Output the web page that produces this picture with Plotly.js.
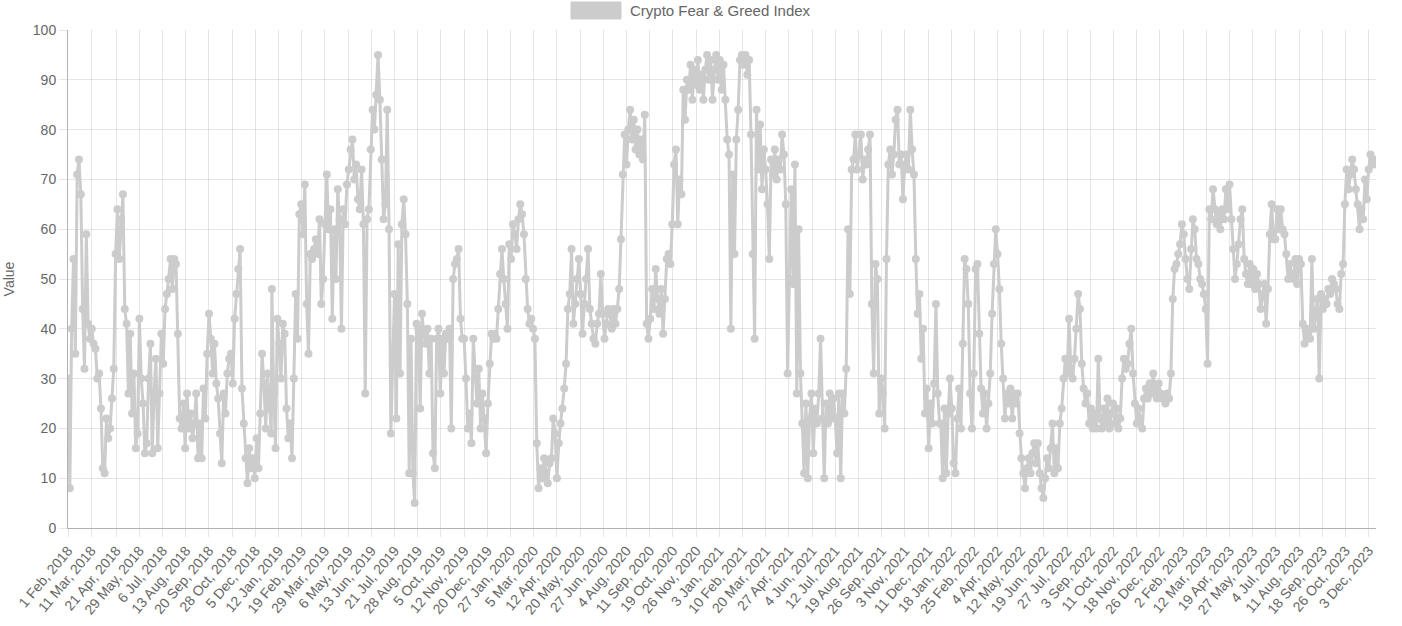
<!DOCTYPE html>
<html>
<head>
<meta charset="utf-8">
<script src="https://cdn.plot.ly/plotly-3.0.1.min.js"></script>
<style>
html,body{margin:0;padding:0;background:#ffffff;}
#chart{width:1402px;height:626px;}
</style>
</head>
<body>
<div id="chart"></div>
<script>
const seriesName = "Crypto Fear & Greed Index";
const stepDays = 3;

const start2018 = "2018-02-01";
const fg2018 = [
30,8,40,54,35,71,74,67,44,32,
59,41,38,40,37,36,30,31,24,12,
11,22,18,20,26,32,55,64,54,62,
67,44,41,27,39,23,31,16,19,42,
30,25,15,17,30,37,15,27,34,16,
27,39,33,44,47,50,54,48,54,53,
39,22,20,25,16,27,20,23,18,21,
27,14,21,14,28,22,35,43,38,31,
37,29,26,19,13,27,23,31,34,35,
29,42,47,52,56,28,21,14,9,16,
12,14,10,18,12,23,35,29,20,31,
24,19
];
const start2019 = "2019-01-01";
const fg2019 = [
48,27,16,42,37,30,41,39,24,18,
21,14,30,47,38,63,65,59,69,45,
35,55,54,56,58,55,62,45,50,61,
71,60,64,42,60,50,68,62,40,64,
61,69,72,76,78,70,73,66,64,72,
61,27,62,64,76,84,80,87,95,86,
74,62,65,84,60,19,33,47,22,57,
31,61,66,59,45,11,38,11,5,41,
40,24,43,39,37,40,31,38,15,12,
38,40,27,38,31,39,38,40,20,50,
53,54,56,42,38,38,30,20,23,17,
38,30,25,32,20,27,22,15,25,33,
39,38
];
const start2020 = "2020-01-01";
const fg2020 = [
39,38,44,51,56,50,45,40,57,54,
61,59,56,62,65,63,59,50,44,41,
42,40,38,17,8,12,10,14,11,9,
13,14,22,19,10,17,21,24,28,33,
44,47,56,41,45,50,54,47,39,45,
50,56,44,41,38,37,41,43,51,43,
38,41,44,43,40,44,41,44,48,58,
71,79,73,80,84,78,82,76,80,75,
78,74,83,41,38,42,48,44,52,46,
43,48,39,46,54,55,53,61,73,76,
61,70,67,88,82,90,88,93,86,92,
89,94,88,91,86,92,95,90,94,86,
92,95
];
const start2021 = "2021-01-01";
const fg2021 = [
90,94,88,93,86,78,75,40,71,55,
78,84,94,95,93,95,91,94,79,55,
38,84,72,81,68,76,72,65,54,74,
71,76,70,74,72,79,75,65,31,50,
68,49,73,27,60,31,21,11,25,10,
22,27,15,24,21,27,38,22,10,25,
21,27,22,26,22,15,27,10,27,23,
32,60,47,72,74,79,72,75,79,70,
74,73,76,79,45,31,53,50,23,30,
27,20,54,73,76,71,75,82,84,73,
75,66,73,75,72,84,76,71,54,43,
47,34,40,23,28,16,25,21,29,45,
27,21
];
const start2022 = "2022-01-01";
const fg2022 = [
21,10,24,11,23,30,24,13,11,22,
28,20,37,54,52,45,27,20,31,52,
53,39,28,23,27,20,25,31,43,53,
60,55,48,37,30,22,27,25,28,22,
27,25,27,19,14,11,8,12,14,11,
15,17,13,17,11,8,6,10,14,12,
16,21,11,16,12,21,24,30,34,31,
42,32,30,34,40,47,44,33,28,25,
27,21,24,20,23,20,34,22,20,24,
21,26,20,23,25,21,24,20,22,30,
34,32,33,37,40,31,25,21,24,22,
20,26,28,26,29,27,31,28,26,29,
27,26
];
const start2023 = "2023-01-01";
const fg2023 = [
26,25,27,26,31,46,52,53,55,57,
61,59,54,50,48,56,62,60,54,53,
50,49,47,44,33,64,62,68,64,61,
63,60,64,62,68,64,69,62,56,50,
53,57,62,64,54,51,49,53,49,52,
48,51,49,44,47,49,41,48,59,65,
58,58,64,60,64,60,59,55,50,53,
51,50,54,49,54,53,41,37,40,39,
38,54,40,43,46,30,47,44,46,45,
48,47,50,49,48,45,44,51,53,65,
72,68,71,74,72,68,65,60,64,62,
70,66,72,75,73,74,73
];

// x-axis tick labels (every 38th day of the original category axis)
const tickDates = [
"2018-02-01","2018-03-11","2018-04-21","2018-05-29","2018-07-06","2018-08-13","2018-09-20","2018-10-28","2018-12-05",
"2019-01-12","2019-02-19","2019-03-29","2019-05-06","2019-06-13","2019-07-21","2019-08-28","2019-10-05","2019-11-12","2019-12-20",
"2020-01-27","2020-03-05","2020-04-12","2020-05-20","2020-06-27","2020-08-04","2020-09-11","2020-10-19","2020-11-26",
"2021-01-03","2021-02-10","2021-03-20","2021-04-27","2021-06-04","2021-07-12","2021-08-19","2021-09-26","2021-11-03","2021-12-11",
"2022-01-18","2022-02-25","2022-04-04","2022-05-12","2022-06-19","2022-07-27","2022-09-03","2022-10-11","2022-11-18","2022-12-26",
"2023-02-02","2023-03-12","2023-04-19","2023-05-27","2023-07-04","2023-08-11","2023-09-18","2023-10-26","2023-12-03"
];
const monthNames = ["Jan","Feb","Mar","Apr","May","Jun","Jul","Aug","Sep","Oct","Nov","Dec"];

function addDays(iso, n) {
  const d = new Date(iso + "T00:00:00Z");
  d.setUTCDate(d.getUTCDate() + n);
  return d.toISOString().slice(0, 10);
}
const blocks = [[start2018, fg2018],[start2019, fg2019],[start2020, fg2020],[start2021, fg2021],[start2022, fg2022],[start2023, fg2023]];
const xs = [], ys = [];
blocks.forEach(([s, arr]) => arr.forEach((v, i) => { xs.push(addDays(s, i * stepDays)); ys.push(v); }));
const tickText = tickDates.map(s => {
  const d = new Date(s + "T00:00:00Z");
  return d.getUTCDate() + " " + monthNames[d.getUTCMonth()] + ", " + d.getUTCFullYear();
});

const grey = "#cccccc";
const textCol = "#666666";
const fontFam = '"Liberation Sans", Arial, Helvetica, sans-serif';

const trace = {
  type: "scatter",
  mode: "lines+markers",
  name: seriesName,
  x: xs,
  y: ys,
  line: {color: grey, width: 3},
  marker: {color: grey, size: 8},
  hoverinfo: "x+y"
};

const layout = {
  width: 1402,
  height: 626,
  margin: {l: 68, r: 26, t: 30, b: 98},
  paper_bgcolor: "#ffffff",
  plot_bgcolor: "#ffffff",
  font: {family: fontFam, size: 14, color: textCol},
  showlegend: false,
  xaxis: {
    type: "date",
    range: ["2018-02-01", "2023-12-15"],
    tickmode: "array",
    tickvals: tickDates,
    ticktext: tickText,
    tickangle: -50,
    tickfont: {family: fontFam, size: 14, color: textCol},
    showgrid: true,
    gridcolor: "rgba(0,0,0,0.1)",
    gridwidth: 1,
    ticks: "outside",
    ticklen: 8,
    tickcolor: "rgba(0,0,0,0.1)",
    showline: true,
    linecolor: "rgba(0,0,0,0.3)",
    linewidth: 1,
    zeroline: false,
    fixedrange: true
  },
  yaxis: {
    range: [0, 100],
    tick0: 0,
    dtick: 10,
    tickfont: {family: fontFam, size: 14, color: textCol},
    showgrid: true,
    gridcolor: "rgba(0,0,0,0.1)",
    gridwidth: 1,
    ticks: "outside",
    ticklen: 8,
    tickcolor: "rgba(0,0,0,0.1)",
    showline: true,
    linecolor: "rgba(0,0,0,0.3)",
    linewidth: 1,
    zeroline: false,
    title: {text: "Value", font: {family: fontFam, size: 14, color: textCol}, standoff: 14},
    fixedrange: true
  },
  shapes: [
    {type: "rect", xref: "paper", yref: "paper", x0: (571-68)/1308, x1: (621-68)/1308, y0: 1 + (30-19)/498, y1: 1 + (30-2)/498,
     fillcolor: grey, line: {color: grey, width: 1}}
  ],
  annotations: [
    {xref: "paper", yref: "paper", x: (628-68)/1308, y: 1 + (30-10.5)/498, xanchor: "left", yanchor: "middle",
     text: seriesName, showarrow: false, font: {family: fontFam, size: 15, color: textCol}}
  ]
};

Plotly.newPlot("chart", [trace], layout, {displayModeBar: false, staticPlot: true});
</script>
</body>
</html>
